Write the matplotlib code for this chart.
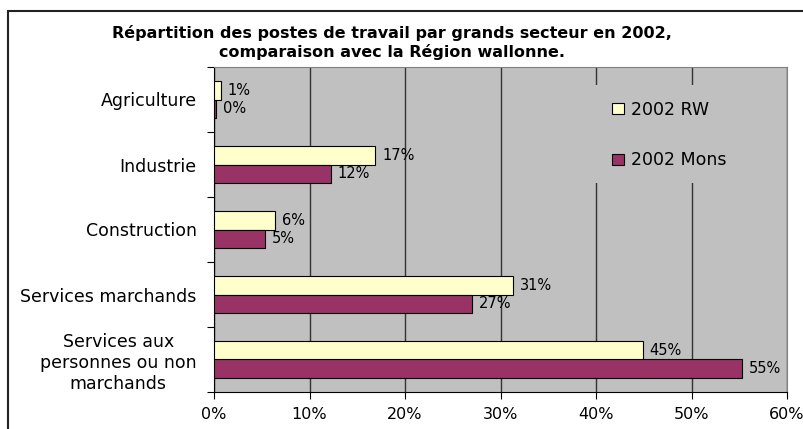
import matplotlib.pyplot as plt
import numpy as np
from matplotlib.patches import Rectangle, Patch

# data (percent)
categories = ["Agriculture", "Industrie", "Construction", "Services marchands",
              "Services aux\npersonnes ou non\nmarchands"]
rw_2002 = [0.7, 16.9, 6.4, 31.3, 44.9]
mons_2002 = [0.2, 12.2, 5.3, 27.0, 55.3]
rw_labels = ["1%", "17%", "6%", "31%", "45%"]
mons_labels = ["0%", "12%", "5%", "27%", "55%"]
xticks = [0, 10, 20, 30, 40, 50, 60]

plt.rcParams['font.family'] = ['DejaVu Sans']

W, H = 804, 429
fig = plt.figure(figsize=(W / 100, H / 100), dpi=100)
ax = fig.add_axes([214 / W, 37 / H, 573 / W, 325 / H])

# outer chart border (runs off the right and bottom edge)
fig.patches.append(Rectangle((8 / W, -0.1), 1.2, 1.1 - 11 / H,
                             transform=fig.transFigure, fill=False,
                             edgecolor='#222222', linewidth=1.5))

y = np.arange(len(categories))
h = 0.28
ax.set_facecolor('#C0C0C0')
bars_rw = ax.barh(y - h / 2, rw_2002, height=h, color='#FFFFCC',
                  edgecolor='black', linewidth=0.8, zorder=3)
bars_mons = ax.barh(y + h / 2, mons_2002, height=h, color='#993366',
                    edgecolor='black', linewidth=0.8, zorder=3)

for bars, labels in [(bars_rw, rw_labels), (bars_mons, mons_labels)]:
    for b, lab in zip(bars, labels):
        ax.annotate(lab, (b.get_width(), b.get_y() + b.get_height() / 2),
                    xytext=(5, 0), textcoords='offset points',
                    va='center', ha='left', fontsize=10.5, zorder=4)

ax.set_xlim(0, 60)
ax.set_ylim(len(categories) - 0.5, -0.5)
ax.set_xticks(xticks)
ax.set_xticklabels([f"{v}%" for v in xticks], fontsize=11.5)
ax.xaxis.grid(True, color='#333333', linewidth=1, zorder=1)
ax.set_axisbelow(True)

ax.set_yticks(np.arange(len(categories) + 1) - 0.5)
ax.set_yticklabels([])
ax.set_yticks(y, minor=True)
ax.set_yticklabels(categories, minor=True, fontsize=12.5, multialignment='center')
ax.tick_params(axis='y', which='minor', length=0, pad=12.5)
ax.tick_params(axis='y', which='major', length=5, direction='out', color='black')
ax.tick_params(axis='x', length=5, direction='out', pad=6, color='black')

for s in ['top', 'right']:
    ax.spines[s].set_color('#808080')
for s in ['left', 'bottom']:
    ax.spines[s].set_color('black')

# legend area hides the gridlines behind it
ax.add_patch(Rectangle((588 / W, 1 - 183 / H), 170 / W, 98 / H,
                       transform=fig.transFigure, facecolor='#C0C0C0',
                       edgecolor='none', zorder=2))

handles = [Patch(facecolor='#FFFFCC', edgecolor='black', linewidth=0.8),
           Patch(facecolor='#993366', edgecolor='black', linewidth=0.8)]
leg = ax.legend(handles, ["2002 RW", "2002 Mons"], loc='center left',
                bbox_to_anchor=(612 / W, 1 - 135 / H),
                bbox_transform=fig.transFigure,
                frameon=False, fontsize=12.5,
                handlelength=0.7, handleheight=0.57, handletextpad=0.4,
                labelspacing=1.9, borderpad=0, borderaxespad=0)

fig.text(392 / W, 1 - 42.5 / H,
         "Répartition des postes de travail par grands secteur en 2002,\ncomparaison avec la Région wallonne.",
         ha='center', va='center', fontsize=11.5, fontweight='bold',
         linespacing=1.25)

fig.savefig("out.png", dpi=100)
